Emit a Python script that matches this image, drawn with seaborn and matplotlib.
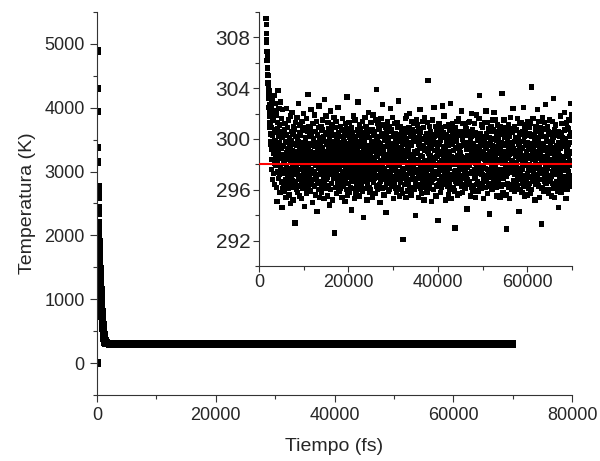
import numpy as np
import pandas as pd
import matplotlib
matplotlib.use("Agg")
import matplotlib.pyplot as plt
from matplotlib.ticker import MultipleLocator
import seaborn as sns

# ---- data ----
early_time = [0, 20, 40, 60, 80, 100, 120, 140, 160, 180, 200, 220, 240, 260,
              300, 340, 380, 420, 460, 500, 540, 580, 620, 660, 700, 740, 780,
              820, 860, 900, 940, 980, 1020, 1060, 1100, 1140, 1180, 1220, 1260,
              1300, 1340, 1380, 1420, 1460, 1500, 1540, 1580, 1620, 1660, 1700,
              1740, 1780, 1820, 1860, 1900, 1940, 1980, 2020, 2060, 2100, 2140,
              2180, 2220, 2260, 2300, 2340, 2380, 2420, 2460, 2500, 2540]
early_temp = [0, 4890, 4300, 3940, 3380, 3150, 2760, 2700, 2600, 2430, 2350, 2200,
              2100, 2000, 1900, 1780, 1680, 1580, 1480, 1390, 1300, 1220, 1140,
              1060, 990, 920, 860, 800, 740, 690, 640, 595, 540, 500, 465, 435,
              410, 388, 370, 355, 343, 333, 325, 319, 314, 311, 309.5, 309.0,
              308.3, 307.6, 307.8, 306.9, 306.2, 306.5, 305.6, 305.1, 304.4,
              305.0, 304.1, 303.6, 304.3, 303.2, 302.5, 303.8, 302.1, 301.3,
              302.7, 300.9, 301.8, 299.6, 300.4]

eq_temp = [
    301.2, 299.8, 302.6, 298.4, 300.9, 297.6, 303.1, 299.2, 301.7, 296.8, 300.3, 302.2, 298.9, 297.3, 301.5, 299.6, 303.4, 298.1, 300.7, 296.4,
    299.9, 302.8, 297.9, 300.5, 298.6, 301.9, 296.2, 299.4, 302.1, 298.2, 295.1, 300.8, 297.4, 301.3, 299.1, 303.8, 298.7, 296.9, 300.2, 302.4,
    297.2, 299.7, 301.1, 295.8, 298.5, 300.6, 302.9, 297.8, 299.3, 296.6, 301.6, 298.8, 294.6, 300.1, 297.5, 302.3, 299.5, 296.1, 300.4, 298.3,
    297.6, 299.4, 296.3, 300.7, 298.1, 295.9, 301.2, 297.3, 299.8, 296.8, 298.6, 300.3, 295.4, 297.9, 302.4, 298.9, 296.5, 299.2, 297.1, 300.9,
    298.4, 296.1, 299.7, 301.5, 297.7, 295.6, 298.8, 300.1, 296.9, 299.3, 297.4, 301.8, 298.2, 294.9, 299.9, 297.0, 300.6, 296.4, 298.7, 302.1,
    296.7, 299.1, 297.8, 300.4, 295.2, 298.5, 301.0, 297.2, 299.6, 296.2, 298.0, 300.8, 297.5, 293.4, 299.0, 301.3, 296.6, 298.3, 300.2, 297.9,
    299.5, 296.0, 298.9, 301.7, 297.4, 295.8, 300.0, 298.6, 296.3, 299.8, 302.8, 297.1, 298.1, 300.5, 295.5, 299.2, 297.6, 301.1, 296.8, 298.4,
    300.3, 297.0, 299.4, 295.3, 298.8, 301.4, 296.5, 298.2, 300.7, 297.7, 299.0, 296.1, 302.0, 298.5, 297.3, 299.7, 294.7, 300.9, 298.0, 296.9,
    298.6, 300.1, 297.5, 299.9, 296.2, 301.6, 298.3, 295.7, 299.3, 297.2, 300.6, 298.9, 296.6, 303.5, 297.8, 299.1, 301.0, 296.0, 298.7, 300.2,
    297.1, 299.6, 295.9, 298.4, 300.8, 296.7, 299.0, 302.3, 297.6, 298.1, 296.4, 300.4, 298.8, 295.0, 299.5, 297.3, 301.2, 298.5, 296.8, 299.8,
    300.0, 297.4, 298.9, 296.3, 301.9, 298.2, 299.4, 295.6, 297.9, 300.6, 298.6, 296.9, 299.7, 297.0, 301.4, 294.3, 298.0, 300.3, 296.5, 299.2,
    298.3, 296.0, 300.9, 297.7, 299.1, 302.6, 295.4, 298.7, 297.2, 300.1, 296.6, 299.5, 298.4, 301.0, 297.5, 295.8, 299.9, 298.1, 300.7, 296.2,
    297.9, 299.3, 301.5, 296.4, 298.8, 300.2, 297.1, 295.3, 299.8, 298.0, 303.1, 296.7, 299.0, 297.6, 300.5, 298.5, 296.1, 301.8, 297.3, 299.6,
    296.8, 300.4, 298.2, 297.0, 299.7, 295.5, 301.3, 298.6, 296.3, 299.2, 297.8, 300.8, 294.8, 298.9, 300.0, 297.4, 299.4, 296.0, 302.2, 298.1,
    299.0, 297.2, 300.6, 296.5, 298.4, 301.1, 297.9, 299.8, 295.2, 298.7, 300.3, 296.9, 299.1, 297.5, 301.7, 298.3, 292.6, 299.5, 297.7, 300.9,
    298.0, 296.2, 299.6, 301.4, 297.3, 298.8, 295.7, 300.1, 298.5, 296.6, 299.9, 297.0, 302.5, 298.2, 296.4, 300.5, 297.8, 299.2, 295.9, 298.6,
    300.2, 297.6, 299.3, 296.1, 298.9, 301.0, 297.1, 299.7, 296.8, 298.1, 300.7, 295.4, 299.0, 297.4, 301.6, 298.4, 296.3, 300.0, 297.9, 299.5,
    296.7, 298.7, 300.4, 297.2, 299.8, 295.1, 298.3, 301.2, 296.9, 299.1, 297.7, 300.8, 298.0, 296.0, 303.3, 297.5, 299.4, 298.6, 295.6, 300.3,
    298.2, 299.6, 296.5, 301.3, 297.0, 298.9, 300.1, 295.8, 299.2, 297.3, 300.6, 298.5, 296.2, 299.9, 297.8, 294.4, 300.9, 298.1, 296.7, 299.3,
    297.4, 300.5, 298.8, 296.1, 299.7, 301.8, 297.6, 298.4, 295.3, 300.2, 297.1, 299.0, 301.5, 296.8, 298.6, 300.0, 297.9, 295.7, 299.5, 298.3,
    299.1, 296.4, 298.0, 300.7, 297.5, 302.9, 298.7, 296.0, 299.8, 297.2, 300.3, 295.5, 298.9, 301.1, 297.7, 299.4, 296.6, 298.2, 300.8, 297.0,
    298.5, 300.0, 296.3, 299.6, 297.9, 301.4, 295.9, 298.1, 300.5, 297.3, 299.2, 296.9, 293.8, 298.8, 300.2, 297.6, 299.9, 296.1, 301.7, 298.4,
    297.8, 299.3, 301.0, 296.7, 298.6, 300.9, 297.1, 295.2, 299.5, 298.0, 300.4, 296.5, 299.0, 302.1, 297.4, 298.9, 296.2, 300.6, 298.3, 295.8,
    300.1, 297.9, 299.2, 296.0, 298.7, 301.3, 297.5, 299.7, 296.8, 298.2, 300.7, 297.2, 295.4, 299.4, 298.5, 301.9, 296.6, 299.0, 297.7, 300.3,
    296.9, 298.4, 300.6, 297.3, 299.8, 295.7, 298.1, 301.5, 297.0, 299.3, 303.9, 296.3, 298.8, 300.0, 297.6, 299.5, 296.0, 298.6, 301.2, 297.9,
    299.7, 297.1, 298.9, 300.8, 296.4, 299.1, 297.8, 295.0, 300.2, 298.3, 296.7, 299.6, 301.6, 297.4, 298.0, 300.4, 296.1, 299.2, 297.5, 302.7,
    298.1, 300.3, 296.8, 299.0, 297.2, 301.1, 298.6, 295.6, 299.9, 297.7, 300.0, 296.2, 298.4, 300.9, 297.0, 299.4, 294.2, 298.8, 300.5, 296.6,
    297.3, 299.5, 301.4, 296.5, 298.2, 300.1, 297.9, 299.8, 295.9, 298.7, 301.0, 297.4, 299.1, 296.0, 300.6, 298.5, 297.1, 302.4, 298.0, 296.9,
    300.7, 297.6, 299.3, 296.3, 298.9, 301.7, 297.0, 299.6, 296.7, 298.3, 300.2, 295.3, 299.0, 297.8, 301.2, 298.1, 296.4, 300.4, 297.5, 299.7,
    296.1, 298.6, 300.0, 297.2, 299.4, 295.8, 298.8, 301.3, 296.8, 299.2, 297.9, 300.9, 298.4, 296.2, 303.0, 297.3, 299.8, 298.0, 295.5, 300.3,
    298.9, 299.9, 296.6, 301.0, 297.4, 298.5, 300.6, 296.0, 299.3, 297.1, 300.1, 298.2, 295.7, 299.7, 297.6, 292.1, 300.8, 298.7, 296.9, 299.0,
    297.7, 300.4, 298.3, 296.4, 299.6, 301.6, 297.2, 298.9, 295.4, 300.0, 297.0, 299.1, 301.8, 296.7, 298.1, 300.5, 297.8, 295.9, 299.4, 298.6,
    299.2, 296.5, 298.0, 300.9, 297.5, 302.0, 298.8, 296.1, 299.7, 297.3, 300.2, 295.6, 298.5, 301.4, 297.9, 299.5, 296.8, 298.4, 300.7, 297.1,
    298.7, 300.3, 296.2, 299.8, 297.8, 301.2, 296.0, 298.2, 300.6, 297.4, 299.0, 296.6, 294.0, 298.9, 300.1, 297.6, 299.9, 296.3, 301.5, 298.3,
    297.6, 299.1, 301.1, 296.9, 298.4, 300.8, 297.0, 295.4, 299.6, 298.1, 300.4, 296.4, 299.3, 302.3, 297.2, 298.7, 296.1, 300.5, 298.0, 295.7,
    300.0, 297.7, 299.4, 296.2, 298.6, 301.4, 297.4, 299.5, 296.7, 298.0, 300.9, 297.1, 295.2, 299.2, 298.3, 301.7, 296.5, 299.1, 297.9, 300.2,
    296.8, 298.3, 300.4, 297.5, 299.9, 295.8, 298.0, 301.3, 297.1, 299.0, 304.6, 296.1, 298.9, 300.1, 297.7, 299.7, 296.3, 298.5, 301.0, 297.8,
    299.5, 297.0, 298.7, 300.6, 296.6, 299.3, 297.6, 295.1, 300.3, 298.4, 296.8, 299.8, 301.5, 297.3, 298.2, 300.0, 296.0, 299.6, 297.4, 302.5,
    298.0, 300.2, 296.9, 299.1, 297.3, 301.0, 298.5, 295.5, 299.7, 297.9, 300.7, 296.3, 298.6, 300.4, 297.2, 299.2, 293.6, 298.9, 300.8, 296.4,
    297.2, 299.6, 301.2, 296.7, 298.1, 300.3, 297.7, 299.9, 295.8, 298.8, 300.9, 297.5, 299.0, 296.2, 300.5, 298.3, 297.0, 302.6, 298.2, 296.7,
    300.5, 297.5, 299.2, 296.4, 298.7, 301.8, 297.2, 299.4, 296.5, 298.0, 300.1, 295.2, 299.1, 297.6, 301.0, 298.4, 296.6, 300.3, 297.3, 299.8,
    296.3, 298.8, 300.2, 297.0, 299.5, 295.6, 298.6, 301.1, 296.6, 299.0, 297.7, 300.7, 298.1, 296.0, 302.8, 297.1, 299.6, 298.2, 295.3, 300.0,
    298.6, 299.7, 296.8, 301.2, 297.2, 298.3, 300.4, 296.2, 299.1, 297.0, 300.6, 298.0, 295.9, 299.9, 297.4, 293.0, 300.9, 298.5, 296.7, 299.3,
    297.5, 300.1, 298.4, 296.6, 299.8, 301.4, 297.0, 298.7, 295.6, 300.3, 297.3, 299.4, 301.6, 296.5, 298.2, 300.6, 297.9, 295.7, 299.2, 298.9,
    299.4, 296.7, 298.1, 300.6, 297.7, 302.2, 298.6, 296.3, 299.5, 297.1, 300.0, 295.8, 298.3, 301.2, 297.6, 299.7, 296.9, 298.0, 300.4, 297.4,
    298.4, 300.5, 296.1, 299.6, 297.6, 301.0, 296.4, 298.5, 300.8, 297.2, 299.2, 296.8, 294.5, 298.7, 300.3, 297.8, 299.7, 296.5, 301.3, 298.1,
    297.9, 299.3, 301.4, 296.6, 298.2, 300.6, 297.3, 295.5, 299.8, 298.3, 300.2, 296.2, 299.1, 302.0, 297.4, 298.9, 296.3, 300.7, 298.6, 295.9,
    300.3, 297.4, 299.6, 296.0, 298.9, 301.2, 297.6, 299.2, 296.9, 298.4, 300.5, 297.0, 295.4, 299.4, 298.1, 301.9, 296.4, 299.0, 297.8, 300.0,
    296.6, 298.5, 300.2, 297.7, 299.9, 295.9, 298.2, 301.6, 297.3, 299.1, 303.4, 296.2, 298.6, 300.4, 297.5, 299.5, 296.1, 298.8, 301.1, 297.6,
    299.8, 297.2, 298.6, 300.9, 296.5, 299.0, 297.9, 295.3, 300.0, 298.5, 296.9, 299.7, 301.3, 297.1, 298.4, 300.2, 296.2, 299.4, 297.7, 302.2,
    298.2, 300.4, 296.7, 299.3, 297.0, 301.3, 298.8, 295.7, 299.6, 297.6, 300.8, 296.5, 298.3, 300.1, 297.3, 299.0, 294.1, 298.7, 300.6, 296.3,
    297.0, 299.8, 301.0, 296.4, 298.4, 300.0, 297.8, 299.5, 296.0, 298.6, 301.5, 297.2, 299.3, 296.6, 300.7, 298.0, 297.4, 302.1, 298.5, 296.8,
    300.6, 297.8, 299.0, 296.5, 298.6, 301.5, 297.1, 299.9, 296.2, 298.3, 300.3, 295.5, 299.4, 297.5, 301.1, 298.2, 296.8, 300.1, 297.2, 299.6,
    296.4, 298.9, 300.7, 297.4, 299.2, 295.4, 298.4, 301.0, 296.9, 299.7, 297.6, 300.4, 298.7, 296.3, 303.6, 297.0, 299.5, 298.1, 295.8, 300.6,
    298.8, 299.5, 296.9, 301.5, 297.3, 298.1, 300.1, 296.4, 299.0, 297.7, 300.9, 298.3, 295.6, 299.6, 297.1, 292.9, 300.5, 298.6, 296.5, 299.9,
    297.3, 300.6, 298.5, 296.2, 299.4, 301.1, 297.5, 298.8, 295.3, 300.2, 297.8, 299.2, 301.7, 296.4, 298.0, 300.8, 297.6, 296.0, 299.7, 298.2,
    299.6, 296.3, 298.3, 300.5, 297.4, 302.4, 298.9, 296.7, 299.2, 297.9, 300.7, 295.9, 298.1, 301.0, 297.2, 299.8, 296.6, 298.6, 300.1, 297.6,
    298.1, 300.7, 296.6, 299.1, 297.3, 301.6, 296.3, 298.9, 300.0, 297.0, 299.6, 296.9, 294.3, 298.4, 300.4, 297.7, 299.4, 296.0, 301.2, 298.8,
    297.4, 299.0, 301.3, 296.8, 298.7, 300.5, 297.6, 295.8, 299.3, 298.0, 300.6, 296.5, 299.8, 302.5, 297.0, 298.6, 296.4, 300.2, 298.3, 295.5,
    300.8, 297.1, 299.5, 296.3, 298.2, 301.1, 297.9, 299.0, 296.6, 298.9, 300.3, 297.3, 295.6, 299.7, 298.5, 301.4, 296.1, 299.2, 297.5, 300.4,
    296.5, 298.0, 300.9, 297.6, 299.6, 295.7, 298.5, 301.2, 297.0, 299.4, 304.1, 296.0, 298.7, 300.2, 297.8, 299.1, 296.7, 298.4, 301.6, 297.3,
    299.3, 297.5, 298.4, 300.3, 296.8, 299.9, 297.2, 295.2, 300.6, 298.1, 296.4, 299.5, 301.0, 297.7, 298.8, 300.0, 296.6, 299.0, 297.1, 302.3,
    298.5, 300.1, 296.3, 299.7, 297.9, 301.4, 298.0, 295.4, 299.2, 297.3, 300.9, 296.8, 298.9, 300.5, 297.6, 299.4, 293.3, 298.2, 300.3, 296.1,
    297.6, 299.4, 301.7, 296.2, 298.5, 300.2, 297.4, 299.6, 295.9, 298.4, 301.3, 297.0, 299.1, 296.7, 300.8, 298.6, 297.2, 302.7, 298.0, 296.5,
    300.2, 297.3, 299.8, 296.7, 298.8, 301.0, 297.7, 299.3, 296.0, 298.2, 300.6, 295.7, 299.0, 297.9, 301.5, 298.4, 296.9, 300.4, 297.1, 299.5,
    296.9, 298.3, 300.5, 297.1, 299.0, 295.5, 298.9, 301.4, 296.5, 299.8, 297.4, 300.1, 298.2, 296.1, 303.2, 297.8, 299.3, 298.7, 295.4, 300.7,
    298.4, 299.2, 296.2, 301.1, 297.7, 298.6, 300.4, 296.6, 299.5, 297.2, 300.3, 298.0, 295.9, 299.1, 297.5, 294.6, 300.6, 298.3, 296.3, 299.7,
    297.1, 300.2, 298.7, 296.5, 299.3, 301.8, 297.3, 298.5, 295.8, 300.5, 297.6, 299.6, 301.2, 296.9, 298.1, 300.1, 297.8, 296.2, 299.8, 298.4,
    299.9, 296.8, 298.0, 300.7, 297.0, 302.1, 298.6, 296.4, 299.4, 297.5, 300.0, 295.3, 298.8, 301.3, 297.9, 299.2, 296.0, 298.1, 300.9, 297.7,
    298.6, 300.8, 296.9, 299.6, 297.4, 301.5, 296.6, 298.3, 300.2, 297.1, 299.7, 296.3, 302.8, 298.9, 300.5, 297.9, 299.0, 296.7, 301.9, 298.2,
]

eq_start_fs = 2600
eq_end_fs = 70000
ref_temp = 298.0

main_xticks = [0, 20000, 40000, 60000, 80000]
main_yticks = [0, 1000, 2000, 3000, 4000, 5000]
inset_xticks = [0, 20000, 40000, 60000]
inset_yticks = [292, 296, 300, 304, 308]

# sampling grid of the equilibrated part (uniform MD output interval)
eq_time = np.linspace(eq_start_fs, eq_end_fs, len(eq_temp))
df = pd.DataFrame({
    "time": np.concatenate([np.asarray(early_time, float), eq_time]),
    "temp": np.concatenate([np.asarray(early_temp, float), np.asarray(eq_temp, float)]),
})

sns.set_style("ticks")
plt.rcParams["font.family"] = ["Liberation Sans", "DejaVu Sans"]
txt = "#262626"
spine_c = "#333333"

fig = plt.figure(figsize=(6, 4.61), dpi=100)

# ---------- main axes ----------
ax = fig.add_axes([0.1617, 0.1432, 0.7917, 0.8308])
sns.scatterplot(data=df, x="time", y="temp", ax=ax, marker="s", s=30,
                color="black", linewidth=0, edgecolor="none", legend=False)
ax.set_xlim(0, 80000)
ax.set_ylim(-500, 5500)
ax.set_xticks(main_xticks)
ax.set_yticks(main_yticks)
ax.xaxis.set_minor_locator(MultipleLocator(10000))
ax.yaxis.set_minor_locator(MultipleLocator(500))
ax.set_xlabel("Tiempo (fs)", fontsize=14, color=txt, labelpad=10)
ax.set_ylabel("Temperatura (K)", fontsize=14, color=txt, labelpad=6)
for s in ["top", "right"]:
    ax.spines[s].set_visible(False)
for s in ["left", "bottom"]:
    ax.spines[s].set_color(spine_c)
    ax.spines[s].set_linewidth(0.8)
ax.tick_params(which="major", direction="out", length=5, width=0.8,
               color=spine_c, labelsize=13, labelcolor=txt, pad=4)
ax.tick_params(which="minor", direction="out", length=3, width=0.8, color=spine_c)

# ---------- inset ----------
axi = fig.add_axes([0.4317, 0.423, 0.5217, 0.551])
axi.patch.set_alpha(0)
sns.scatterplot(data=df, x="time", y="temp", ax=axi, marker="s", s=15,
                color="black", linewidth=0, edgecolor="none", legend=False)
axi.axhline(ref_temp, color="red", lw=1.5, zorder=5)
axi.set_xlim(0, 70000)
axi.set_ylim(290, 310)
axi.set_xticks(inset_xticks)
axi.set_yticks(inset_yticks)
axi.xaxis.set_minor_locator(MultipleLocator(10000))
axi.yaxis.set_minor_locator(MultipleLocator(2))
axi.set_xlabel("")
axi.set_ylabel("")
for s in ["top", "right"]:
    axi.spines[s].set_visible(False)
for s in ["left", "bottom"]:
    axi.spines[s].set_color(spine_c)
    axi.spines[s].set_linewidth(0.8)
axi.tick_params(which="major", direction="out", length=4, width=0.8,
                color=spine_c, labelcolor=txt, pad=2)
axi.tick_params(which="minor", direction="out", length=3, width=0.8, color=spine_c)
axi.tick_params(axis="y", labelsize=15)
axi.tick_params(axis="x", labelsize=13)

fig.savefig("out.png", dpi=100)
